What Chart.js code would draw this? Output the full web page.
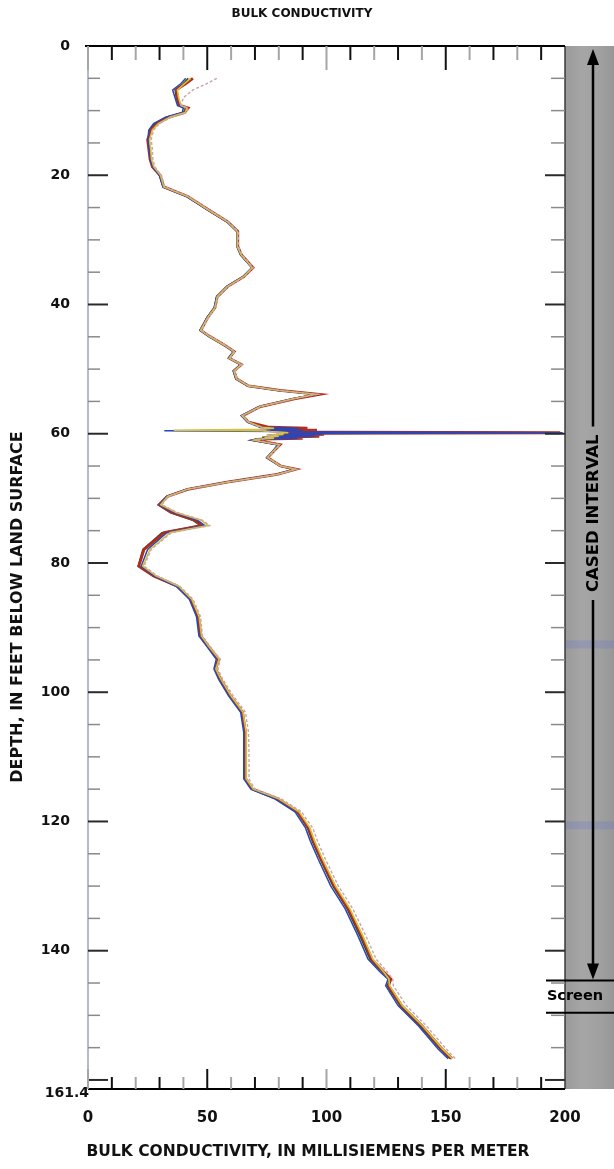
<!DOCTYPE html>
<html>
<head>
<meta charset="utf-8">
<script src="https://cdn.jsdelivr.net/npm/chart.js@4.4.1/dist/chart.umd.min.js"></script>
<style>
html,body{margin:0;padding:0;background:#fff;}
canvas{display:block;}
</style>
</head>
<body>
<canvas id="c" width="614" height="1169"></canvas>
<script>
// ---------------- DATA ----------------
const depthFt = [
  5.0, 5.8, 6.8, 8.0, 9.2, 9.6, 10.3, 11.0, 12.0, 13.0,
  14.5, 16.0, 17.5, 18.7, 20.0, 21.8, 23.3, 25.3, 27.2, 28.7,
  31.0, 32.3, 34.3, 35.7, 37.2, 38.8, 40.5, 42.0, 44.0, 45.0,
  46.3, 47.3, 48.3, 49.3, 50.3, 51.5, 52.6, 53.3, 53.9, 54.6,
  55.8, 57.2, 58.2, 59.0, 59.15, 59.3, 59.45, 59.55, 59.65, 59.75,
  59.85, 59.95, 60.1, 60.25, 60.4, 60.55, 60.7, 60.85, 61.0, 61.7,
  62.7, 63.7, 65.0, 65.5, 66.3, 67.5, 68.6, 69.7, 71.0, 72.2,
  73.4, 74.2, 75.3, 77.9, 80.5, 82.0, 83.6, 85.6, 88.3, 91.3,
  92.9, 94.9, 96.4, 98.0, 100.6, 103.1, 106.2, 109.3, 113.4, 115.0,
  116.5, 118.5, 121.0, 123.0, 125.8, 130.0, 133.5, 137.7, 141.3, 143.3,
  144.4, 145.4, 148.5, 151.6, 155.2, 156.7
];
// bulk conductivity (mS/m), repeated log runs
const runGreen = [
  42, 40, 36.5, 37, 38, 41, 40, 33, 28, 26,
  25.2, 25.8, 26.2, 27.3, 30, 31.5, 41.5, 50, 58.3, 62.5,
  62.5, 64, 68.8, 65, 58.3, 54, 53, 50, 47, 51,
  57, 61, 59, 64, 61, 62, 67, 80, 96, 86,
  72, 64.5, 67, 75, 90, 73, 94, 80, 77, 99,
  196, 82, 97, 75, 95, 73, 88, 70, 69, 80,
  77.5, 75, 80.5, 86.8, 79, 58, 41.5, 33, 29.5, 34.5,
  44, 47, 31, 23, 21, 27.3, 37.2, 42.8, 46, 47,
  50.3, 54.5, 53.2, 55.3, 59.5, 64.6, 65.8, 65.8, 65.8, 68.8,
  79, 87.6, 92, 94, 97.3, 102.7, 108.6, 114, 118.2, 123.3,
  126.6, 125.4, 130.8, 139.2, 147.6, 151.8
];
const runRed = [
  44, 41, 37, 37.5, 38.5, 42, 40.5, 34, 29, 26.5,
  25, 25.5, 26, 27, 30.2, 31.8, 41.8, 50.3, 58.6, 62.8,
  62.8, 64.3, 69.2, 65.3, 58.6, 54.2, 53.2, 50.2, 47.3, 51.3,
  57.3, 61.3, 59.2, 64.3, 61.2, 62.3, 67.3, 80.5, 97, 86.5,
  72.3, 64.8, 67.3, 76, 92, 74, 96, 82, 79, 101,
  198, 84, 99, 77, 97, 75, 90, 72, 70, 80.5,
  77.8, 75.3, 80.8, 87.2, 79.3, 58.3, 41.8, 33.3, 29.8, 35,
  45, 48, 32, 23.5, 21.3, 27.5, 37.5, 43, 46.3, 47.3,
  50.5, 54.8, 53.5, 55.6, 59.8, 64.8, 66, 66.2, 66, 69,
  79.5, 88, 92.5, 94.5, 97.8, 103.3, 109.2, 114.8, 119, 124,
  127, 126, 131.5, 140, 148.4, 152.6
];
const runBlue = [
  41, 39, 35.5, 36.5, 37.5, 40, 39.5, 32.5, 27.5, 25.5,
  25.1, 25.7, 26.1, 27.2, 29.9, 31.4, 41.4, 49.9, 58.2, 62.4,
  62.4, 63.9, 68.7, 64.9, 58.2, 53.9, 52.9, 49.9, 46.9, 50.9,
  56.9, 60.9, 58.9, 63.9, 60.9, 61.9, 66.9, 79.8, 95.5, 85.8,
  71.5, 64.2, 66.8, 72, 88, 73, 90, 32, 80, 100,
  199, 84, 98, 76, 95, 74, 88, 71, 68.5, 79.5,
  77.4, 74.9, 80.4, 86.6, 78.9, 57.9, 41.4, 33, 30, 36,
  46, 49, 33, 25, 22.3, 27.8, 37, 42.5, 45.5, 46.5,
  49.8, 53.8, 52.8, 54.8, 59, 64, 65.3, 65.3, 65.3, 68.3,
  78.3, 86.8, 91.2, 93.2, 96.5, 101.8, 107.8, 113.2, 117.4, 122.5,
  125.8, 124.8, 130, 138.5, 146.8, 151
];
const runYellow = [
  43, 40.5, 37.5, 38, 39, 41.5, 40.8, 34.5, 29.5, 27,
  25.8, 26.3, 26.6, 27.6, 30.4, 31.8, 41.8, 50.2, 58.5, 62.6,
  62.6, 64.2, 68.9, 65.2, 58.5, 54.2, 53.2, 50.2, 47.2, 51.2,
  57.2, 61.2, 59.2, 64.2, 61.2, 62.2, 67.2, 80.2, 95.5, 86.2,
  72.2, 64.6, 67.2, 73, 78, 72, 36, 73, 76, 80,
  84, 79, 82, 75, 80, 74, 78, 71, 69.5, 80.2,
  77.6, 75.2, 80.6, 86.9, 79.2, 58.2, 41.7, 33.4, 30.5, 37,
  47.5, 50.5, 34.5, 26, 23, 28.5, 38, 43.5, 46.6, 47.6,
  50.6, 55, 53.6, 55.8, 60, 65, 66.3, 66.3, 66.3, 69.3,
  80, 88.5, 93, 95, 98.3, 103.8, 109.8, 115.2, 119.4, 124,
  126.2, 126.4, 131.8, 140.2, 148.6, 152.8
];
const runGray = [
  54, 50, 44, 40, 39, 42, 41.5, 35, 30, 27.5,
  26.5, 27, 27.2, 28, 30.8, 32.2, 42.2, 50.6, 58.9, 63,
  63, 64.6, 69.3, 65.6, 58.9, 54.6, 53.6, 50.6, 47.6, 51.6,
  57.6, 61.6, 59.6, 64.6, 61.6, 62.6, 67.6, 80.6, 96, 86.6,
  72.6, 65, 67.6, 72, 74, 72.5, 75, 74, 76, 78,
  80, 79, 78, 76, 77, 75, 74, 72, 70.5, 80.6,
  78, 75.6, 81, 87.3, 79.6, 58.6, 42, 33.8, 31, 37.5,
  48, 51, 35, 26.5, 23.5, 29, 38.5, 44, 47.2, 48,
  51.2, 55.5, 54.5, 56.5, 61, 66, 67.3, 67.5, 67.5, 70,
  81, 89.5, 94.2, 96.2, 99.5, 105, 111, 116.5, 120.8, 125.5,
  127.8, 128, 133.5, 141.8, 150.2, 154
];

const xTickValues = [0, 50, 100, 150, 200];
const xMarkValues = [0, 10, 20, 30, 40, 50, 60, 70, 80, 90, 100, 110, 120, 130, 140, 150, 160, 170, 180, 190];
const yTickValues = [0, 20, 40, 60, 80, 100, 120, 140];
const yMaxDepth = 161.4;
const yMarkValues = [5, 10, 15, 20, 25, 30, 35, 40, 45, 50, 55, 60, 65, 70, 75, 80, 85, 90, 95, 100, 105, 110, 115, 120, 125, 130, 135, 140, 145, 150, 155, 160];
const casedInterval = [0, 144.6];
const screenInterval = [144.6, 149.6];
const bandStreakDepths = [92.6, 120.6];

const titleText = 'BULK CONDUCTIVITY';
const xTitleText = 'BULK CONDUCTIVITY, IN MILLISIEMENS PER METER';
const yTitleText = 'DEPTH, IN FEET BELOW LAND SURFACE';
const casedLabel = 'CASED INTERVAL';
const screenLabel = 'Screen';

// ---------------- CHART ----------------
const FONT = "'DejaVu Sans', Verdana, sans-serif";

function pts(run) { return depthFt.map((d, i) => ({ x: run[i], y: d })); }

const decor = {
  id: 'decor',
  beforeDatasetsDraw(chart) {
    const { ctx, chartArea: a, scales: { y } } = chart;
    ctx.save();
    const L = a.right, R = chart.width;
    const g = ctx.createLinearGradient(L, 0, R, 0);
    g.addColorStop(0, '#9a9a9a');
    g.addColorStop(0.35, '#a6a6a6');
    g.addColorStop(0.7, '#a0a0a0');
    g.addColorStop(1, '#979797');
    ctx.fillStyle = g;
    ctx.fillRect(L, a.top, R - L, a.bottom - a.top);
    ctx.fillStyle = 'rgba(80,105,215,0.2)';
    bandStreakDepths.forEach(d => {
      const py = y.getPixelForValue(d);
      ctx.fillRect(L, py - 4, R - L, 8);
    });
    ctx.restore();
  },
  afterDatasetsDraw(chart) {
    const { ctx, chartArea: a, scales: { x, y } } = chart;
    ctx.save();
    // right edge of plot
    ctx.strokeStyle = '#3a3a3a'; ctx.lineWidth = 1.5;
    ctx.beginPath(); ctx.moveTo(a.right, a.top); ctx.lineTo(a.right, a.bottom); ctx.stroke();
    // left axis line
    ctx.strokeStyle = '#b3bccb'; ctx.lineWidth = 2;
    ctx.beginPath(); ctx.moveTo(a.left, a.top); ctx.lineTo(a.left, a.bottom); ctx.stroke();
    // depth ticks left & right
    yMarkValues.forEach(d => {
      const py = y.getPixelForValue(d);
      const major = d % 20 === 0;
      ctx.strokeStyle = major ? '#2a2a2a' : '#8a8a8a';
      ctx.lineWidth = major ? 2 : 1.5;
      ctx.beginPath(); ctx.moveTo(a.left, py); ctx.lineTo(a.left + (major ? 20 : 12), py); ctx.stroke();
      ctx.beginPath(); ctx.moveTo(a.right, py); ctx.lineTo(a.right - (major ? 20 : 14), py); ctx.stroke();
    });
    // top & bottom axis lines
    ctx.strokeStyle = '#000'; ctx.lineWidth = 2;
    ctx.beginPath(); ctx.moveTo(a.left - 3, a.top); ctx.lineTo(a.right, a.top); ctx.stroke();
    ctx.beginPath(); ctx.moveTo(a.left, a.bottom); ctx.lineTo(a.right, a.bottom); ctx.stroke();
    xMarkValues.forEach(v => {
      const px = x.getPixelForValue(v);
      const major = v % 50 === 0;
      const dark = (v / 10) % 2 === 1;
      ctx.strokeStyle = dark ? '#111' : '#a5a5a5';
      ctx.lineWidth = 2;
      const lt = major ? 24 : 14, lb = major ? 20 : 12;
      ctx.beginPath(); ctx.moveTo(px, a.top); ctx.lineTo(px, a.top + lt); ctx.stroke();
      ctx.beginPath(); ctx.moveTo(px, a.bottom); ctx.lineTo(px, a.bottom - lb); ctx.stroke();
    });

    ctx.fillStyle = '#111';
    // main title
    ctx.font = 'bold 12px ' + FONT;
    ctx.textAlign = 'center'; ctx.textBaseline = 'middle';
    ctx.fillText(titleText, 302, 14);

    // 161.4 label
    ctx.font = 'bold 14px ' + FONT;
    ctx.textAlign = 'right'; ctx.textBaseline = 'middle';
    ctx.fillText(String(yMaxDepth), a.left + 1, y.getPixelForValue(yMaxDepth) + 4);

    // axis titles
    ctx.font = 'bold 15.5px ' + FONT;
    ctx.textAlign = 'center'; ctx.textBaseline = 'middle';
    ctx.fillText(xTitleText, 308, 1152);
    ctx.save();
    ctx.font = 'bold 16px ' + FONT;
    ctx.translate(18, 607); ctx.rotate(-Math.PI / 2);
    ctx.fillText(yTitleText, 0, 0);
    ctx.restore();

    // cased interval arrow
    const ax = 593;
    const yTop = y.getPixelForValue(casedInterval[0]) + 3;
    const yBot = y.getPixelForValue(casedInterval[1]) - 1;
    const yMid = (y.getPixelForValue(casedInterval[0]) + y.getPixelForValue(casedInterval[1])) / 2;
    ctx.font = 'bold 16.5px ' + FONT;
    const tw = ctx.measureText(casedLabel).width;
    ctx.fillStyle = '#000'; ctx.strokeStyle = '#000'; ctx.lineWidth = 2.5;
    ctx.beginPath(); ctx.moveTo(ax, yTop + 14); ctx.lineTo(ax, yMid - tw / 2 - 8); ctx.stroke();
    ctx.beginPath(); ctx.moveTo(ax, yMid + tw / 2 + 8); ctx.lineTo(ax, yBot - 14); ctx.stroke();
    ctx.beginPath(); ctx.moveTo(ax, yTop); ctx.lineTo(ax - 6, yTop + 16); ctx.lineTo(ax + 6, yTop + 16); ctx.closePath(); ctx.fill();
    ctx.beginPath(); ctx.moveTo(ax, yBot); ctx.lineTo(ax - 6, yBot - 16); ctx.lineTo(ax + 6, yBot - 16); ctx.closePath(); ctx.fill();
    ctx.save();
    ctx.translate(ax + 1, yMid); ctx.rotate(-Math.PI / 2);
    ctx.textAlign = 'center'; ctx.textBaseline = 'middle';
    ctx.fillText(casedLabel, 0, 0);
    ctx.restore();

    // screen interval
    const s1 = y.getPixelForValue(screenInterval[0]);
    const s2 = y.getPixelForValue(screenInterval[1]);
    ctx.lineWidth = 2;
    ctx.beginPath(); ctx.moveTo(a.right - 19, s1); ctx.lineTo(chart.width, s1); ctx.stroke();
    ctx.beginPath(); ctx.moveTo(a.right - 19, s2); ctx.lineTo(chart.width, s2); ctx.stroke();
    ctx.font = 'bold 14.5px ' + FONT;
    ctx.textAlign = 'center'; ctx.textBaseline = 'middle';
    ctx.fillText(screenLabel, 575, (s1 + s2) / 2);
    ctx.restore();
  }
};

const mk = (label, run, color, w, dash) => ({
  label, data: pts(run), showLine: true, borderColor: color, backgroundColor: color,
  borderWidth: w, pointRadius: 0, tension: 0, borderDash: dash || []
});

new Chart(document.getElementById('c'), {
  type: 'scatter',
  data: {
    datasets: [
      mk('Run 5', runGray, '#c7a6ad', 1.4, [3, 2]),
      mk('Run 4', runYellow, '#d8c23c', 1.6),
      mk('Run 3', runBlue, '#2b46b8', 1.5),
      mk('Run 2', runRed, '#b22d1c', 2.8),
      mk('Run 1', runGreen, '#2c4a22', 1.5)
    ]
  },
  options: {
    responsive: false,
    animation: false,
    devicePixelRatio: 1,
    layout: { padding: { left: 0, right: 49, top: 46, bottom: 0 } },
    plugins: {
      legend: { display: false },
      tooltip: { enabled: false },
      title: { display: false }
    },
    scales: {
      x: {
        type: 'linear', position: 'bottom', min: 0, max: 200,
        afterBuildTicks: s => { s.ticks = xTickValues.map(v => ({ value: v })); },
        ticks: { color: '#111', font: { family: FONT, weight: 'bold', size: 15 }, padding: 20, maxRotation: 0 },
        grid: { display: false, drawTicks: false },
        border: { display: false },
        afterFit: s => { s.height = 80; }
      },
      y: {
        type: 'linear', position: 'left', reverse: true, min: 0, max: yMaxDepth,
        afterBuildTicks: s => { s.ticks = yTickValues.map(v => ({ value: v })); },
        ticks: { color: '#111', font: { family: FONT, weight: 'bold', size: 14 }, padding: 18 },
        grid: { display: false, drawTicks: false },
        border: { display: false },
        afterFit: s => { s.width = 88; }
      }
    }
  },
  plugins: [decor]
});
</script>
</body>
</html>
